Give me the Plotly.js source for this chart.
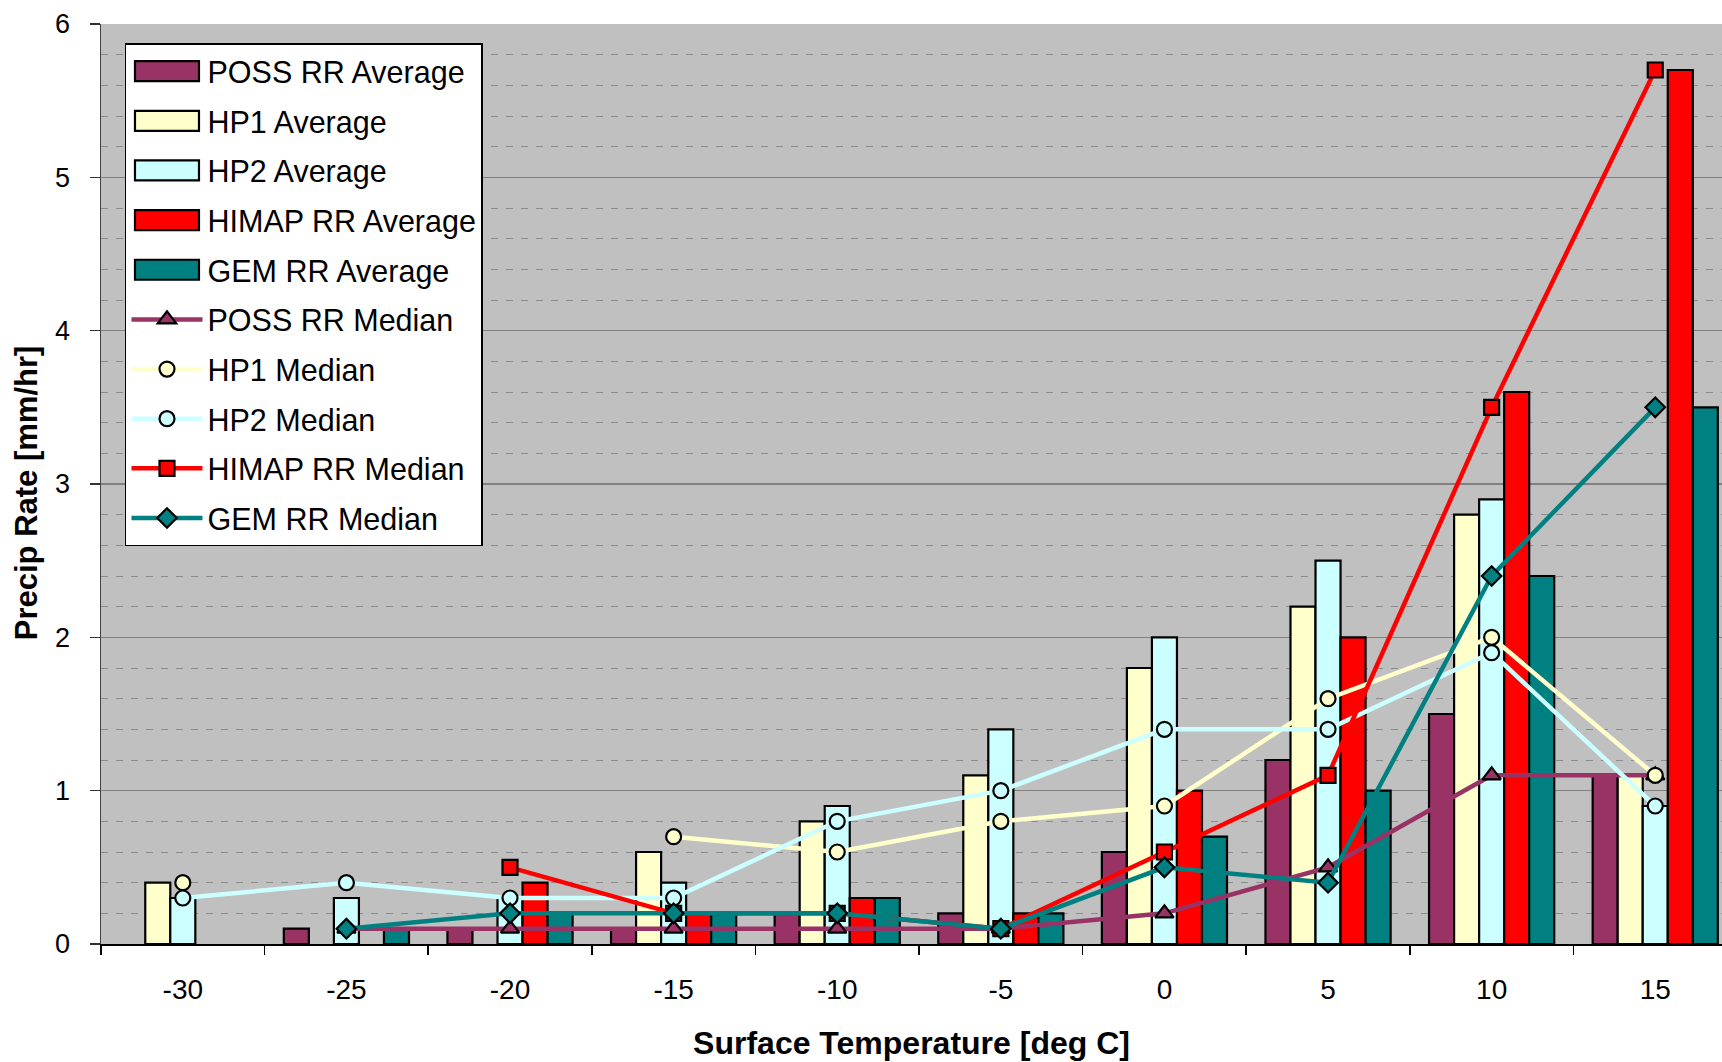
<!DOCTYPE html>
<html>
<head>
<meta charset="utf-8">
<script src="https://cdn.plot.ly/plotly-3.0.1.min.js"></script>
<style>
html,body{margin:0;padding:0;background:#fff;}
#chart{width:1722px;height:1062px;}
</style>
</head>
<body>
<div id="chart"></div>
<script>
// Surface temperature categories (deg C)
const categories = ['-30','-25','-20','-15','-10','-5','0','5','10','15'];

// Averages (mm/hr)
const possAvg  = [null, 0.1, 0.1, 0.1, 0.2, 0.2, 0.6, 1.2, 1.5, 1.1];
const hp1Avg   = [0.4, null, null, 0.6, 0.8, 1.1, 1.8, 2.2, 2.8, 1.1];
const hp2Avg   = [0.3, 0.3, 0.3, 0.4, 0.9, 1.4, 2.0, 2.5, 2.9, 0.9];
const himapAvg = [null, null, 0.4, 0.2, 0.3, 0.2, 1.0, 2.0, 3.6, 5.7];
const gemAvg   = [null, 0.1, 0.2, 0.2, 0.3, 0.2, 0.7, 1.0, 2.4, 3.5];

// Medians (mm/hr)
const possMed  = [null, 0.1, 0.1, 0.1, 0.1, 0.1, 0.2, 0.5, 1.1, 1.1];
const hp1Med   = [0.4, null, null, 0.7, 0.6, 0.8, 0.9, 1.6, 2.0, 1.1];
const hp2Med   = [0.3, 0.4, 0.3, 0.3, 0.8, 1.0, 1.4, 1.4, 1.9, 0.9];
const himapMed = [null, null, 0.5, 0.2, 0.2, 0.1, 0.6, 1.1, 3.5, 5.7];
const gemMed   = [null, 0.1, 0.2, 0.2, 0.2, 0.1, 0.5, 0.4, 2.4, 3.5];

const C = {poss:'#993366', hp1:'#FFFFCC', hp2:'#CCFFFF', himap:'#FF0000', gem:'#008080'};
const FONT = 'Liberation Sans, Arial, sans-serif';

function bar(name, y, color, g){
  return {type:'bar', name:name, x:categories, y:y, legendgroup:g,
    marker:{color:color, line:{color:'#000', width:2.2}}};
}
function med(name, y, color, symbol, size, g){
  return {type:'scatter', mode:'lines+markers', name:name, x:categories, y:y, legendgroup:g,
    connectgaps:false,
    line:{color:color, width:4.5},
    marker:{symbol:symbol, size:size, color:color, line:{color:'#000', width:2.2}}};
}

const data = [
  bar('POSS RR Average', possAvg, C.poss, 'g1'),
  bar('HP1 Average', hp1Avg, C.hp1, 'g2'),
  bar('HP2 Average', hp2Avg, C.hp2, 'g3'),
  bar('HIMAP RR Average', himapAvg, C.himap, 'g4'),
  bar('GEM RR Average', gemAvg, C.gem, 'g5'),
  med('POSS RR Median', possMed, C.poss, 'triangle-up', 16, 'g6'),
  med('HP1 Median', hp1Med, C.hp1, 'circle', 15, 'g7'),
  med('HP2 Median', hp2Med, C.hp2, 'circle', 15, 'g8'),
  med('HIMAP RR Median', himapMed, C.himap, 'square', 15, 'g9'),
  med('GEM RR Median', gemMed, C.gem, 'diamond', 15, 'g10')
];

const layout = {
  width:1722, height:1062,
  margin:{l:101, r:0, t:24, b:118},
  paper_bgcolor:'#ffffff',
  plot_bgcolor:'#C0C0C0',
  font:{family:FONT, color:'#000'},
  barmode:'group', bargap:0.235, bargroupgap:0,
  showlegend:true,
  legend:{x:0.0148, y:0.979, xanchor:'left', yanchor:'top',
    bgcolor:'#ffffff', bordercolor:'#000', borderwidth:1.5,
    font:{family:FONT, size:30.5, color:'#000'},
    itemwidth:71, tracegroupgap:7, traceorder:'grouped'},
  xaxis:{type:'category', range:[-0.5, 9.408], tickson:'boundaries',
    ticks:'outside', ticklen:9, tickwidth:1.5, tickcolor:'#000',
    showline:true, linecolor:'#000', linewidth:1.5, showgrid:false, zeroline:false,
    tickfont:{family:FONT, size:28, color:'#000'}, ticklabelstandoff:20,
    title:{text:'Surface Temperature [deg C]', standoff:27,
      font:{family:FONT, size:32, color:'#000', weight:'bold'}}},
  yaxis:{range:[0,6], dtick:1, tick0:0,
    ticks:'outside', ticklen:10, tickwidth:1.5, tickcolor:'#333',
    showline:true, linecolor:'#444', linewidth:1.5, zeroline:false,
    showgrid:true, gridcolor:'#808080', gridwidth:1.5,
    minor:{dtick:0.2, tick0:0, showgrid:true, gridcolor:'#8c8c8c', gridwidth:1, griddash:'7px,8px'},
    tickfont:{family:FONT, size:27, color:'#000'}, ticklabelstandoff:14},
  annotations:[{text:'Precip Rate [mm/hr]', xref:'paper', yref:'paper',
    x:-0.0463, y:0.491, xanchor:'center', yanchor:'middle', textangle:-90,
    showarrow:false, font:{family:FONT, size:31, color:'#000', weight:'bold'}}]
};

Plotly.newPlot('chart', data, layout, {displayModeBar:false, staticPlot:true}).then(function(gd){
  // widen the legend swatches of the bar series (Excel-style wide rectangles)
  gd.querySelectorAll('.legend path.legendbar, .legend path.legendundefined').forEach(function(p){
    p.setAttribute('d', 'M-32,-10H32V10H-32Z');
  });
});
</script>
</body>
</html>
